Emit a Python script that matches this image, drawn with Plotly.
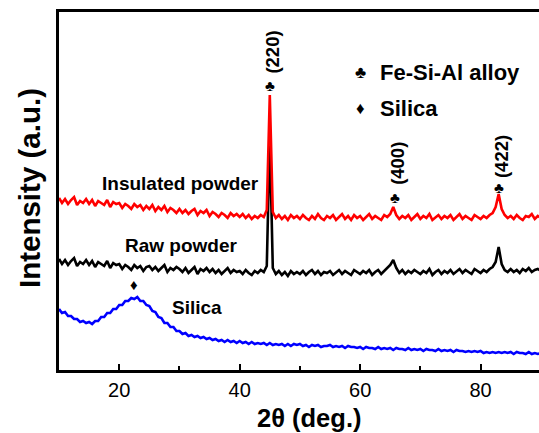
import numpy as np
import plotly.graph_objects as go

# 2-theta grid (deg), 0.5 deg sampling
two_theta = [10 + 0.5 * i for i in range(161)]

insulated = [
    172,167,171,166,170,173,165,169,167,171,
    166,170,164,169,167,165,170,163,168,166,
    167,162,166,164,161,166,163,165,160,164,
    161,165,159,163,160,164,158,162,160,157,
    161,157,160,156,159,161,155,159,157,160,
    154,158,156,153,157,155,152,157,154,156,
    153,156,152,155,151,154,152,155,153,160,
    275,158,152,155,151,154,150,155,152,154,
    151,155,152,150,154,151,156,152,150,154,
    152,155,150,153,156,151,154,150,155,152,
    154,150,153,156,151,154,152,150,155,153,
    156,163,155,151,154,152,155,150,153,156,
    151,154,152,156,150,153,155,151,154,152,
    155,150,153,156,151,154,152,150,155,153,
    151,154,152,155,157,163,176,161,155,152,
    154,151,155,152,150,154,153,156,151,154,
    152,
]

raw = [
    111,106,110,105,109,112,104,108,106,110,
    105,109,103,108,106,104,109,102,107,105,
    106,101,105,103,100,105,102,104,99,103,
    104,100,103,99,102,105,98,102,100,103,
    101,98,102,97,100,103,96,101,99,102,
    98,101,97,100,96,99,102,97,100,98,
    99,96,100,97,95,99,97,100,98,104,
    235,102,96,99,95,98,94,99,96,98,
    96,99,95,98,100,96,99,95,98,97,
    99,95,98,100,96,99,97,95,100,98,
    96,99,97,100,95,98,100,96,99,102,
    105,110,102,97,100,96,99,97,100,98,
    96,99,97,101,95,98,100,96,99,97,
    100,96,99,101,97,100,98,96,101,99,
    97,100,98,101,103,108,123,106,100,98,
    101,98,100,97,101,99,102,98,100,101,
    99,
]

silica = [
    61,57,58,54,54,51,51,48,49,47,
    48,46,49,49,53,53,57,57,61,61,
    65,65,69,69,72,71,73,69,69,65,
    64,59,58,53,52,47,47,43,43,39,
    39,36,37,34,35,33,34,32,33,31,
    32,30,31,29,30,28,30,28,29,27,
    29,27,28,26,28,26,27,26,27,25,
    27,25,26,25,26,24,26,24,26,25,
    26,24,25,23,25,24,25,23,24,24,
    25,23,24,23,24,22,24,23,23,22,
    23,21,23,22,22,21,23,21,22,21,
    22,20,22,21,21,20,22,20,21,20,
    21,19,21,20,20,19,21,19,20,19,
    20,18,20,19,19,18,19,18,19,18,
    19,17,18,17,18,17,18,17,18,17,
    18,16,18,17,17,16,18,16,17,16,
    17,
]

peak_pos = [45.0, 65.8, 83.1]
peak_labels = ["(220)", "(400)", "(422)"]
peak_sym_y = [285, 173, 183]
peak_lab_y = [318, 207, 213]

FONT = "Arial, Liberation Sans, Helvetica, sans-serif"

fig = go.Figure()
fig.add_trace(go.Scatter(x=two_theta, y=silica, mode="lines",
                         line=dict(color="#0000ff", width=2.6), showlegend=False))
fig.add_trace(go.Scatter(x=two_theta, y=raw, mode="lines",
                         line=dict(color="#000000", width=2.6), showlegend=False))
fig.add_trace(go.Scatter(x=two_theta, y=insulated, mode="lines",
                         line=dict(color="#ff0000", width=2.6), showlegend=False))

ann = []
def txt(x, y, t, size, xanchor="center", angle=0):
    ann.append(dict(x=x, y=y, xref="x", yref="y", text=t, showarrow=False,
                    xanchor=xanchor, yanchor="middle", textangle=angle,
                    font=dict(family=FONT, size=size, color="#000")))

for px, sy, ly, lab in zip(peak_pos, peak_sym_y, peak_lab_y, peak_labels):
    txt(px, sy, "♣", 15)
    txt(px + 0.3, ly, "<b>%s</b>" % lab, 18.5, angle=-90)

txt(22.5, 86, "♦", 15)
txt(30.1, 187, "<b>Insulated powder</b>", 19)
txt(30.4, 125, "<b>Raw powder</b>", 19)
txt(32.9, 63, "<b>Silica</b>", 19)
# legend
txt(60.0, 298, "♣", 17)
txt(63.0, 298, "<b>Fe-Si-Al alloy</b>", 22, xanchor="left")
txt(60.0, 262, "♦", 17)
txt(63.0, 262, "<b>Silica</b>", 22, xanchor="left")

# axis titles (pixel-placed in paper coords)
ann.append(dict(x=(309 - 59) / 480, y=-(418 - 370) / 358, xref="paper", yref="paper",
                text="<b>2θ (deg.)</b>", showarrow=False, xanchor="center",
                yanchor="middle", font=dict(family=FONT, size=25.5, color="#000")))
ann.append(dict(x=-(59 - 29) / 480, y=(370 - 188) / 358, xref="paper", yref="paper",
                text="<b>Intensity (a.u.)</b>", showarrow=False, textangle=-90,
                xanchor="center", yanchor="middle",
                font=dict(family=FONT, size=29.5, color="#000")))

fig.update_layout(
    width=539, height=433,
    margin=dict(l=59, r=0, t=12, b=63),
    plot_bgcolor="white", paper_bgcolor="white",
    annotations=ann,
    xaxis=dict(range=[10, 89.7], tickvals=[20, 40, 60, 80], ticks="inside",
               ticklen=6, tickwidth=2, tickcolor="#000",
               minor=dict(tickvals=[30, 50, 70], ticks="inside", ticklen=4,
                          tickwidth=2, tickcolor="#000"),
               showline=True, linecolor="#000", linewidth=2.5, mirror=True,
               showgrid=False, zeroline=False,
               tickfont=dict(family=FONT, size=20, color="#000"),
               tickprefix="<b>", ticksuffix="</b>"),
    yaxis=dict(range=[0, 358], showticklabels=False, ticks="",
               showline=True, linecolor="#000", linewidth=2.5, mirror=False,
               showgrid=False, zeroline=False),
)

fig.write_html("out.html")
